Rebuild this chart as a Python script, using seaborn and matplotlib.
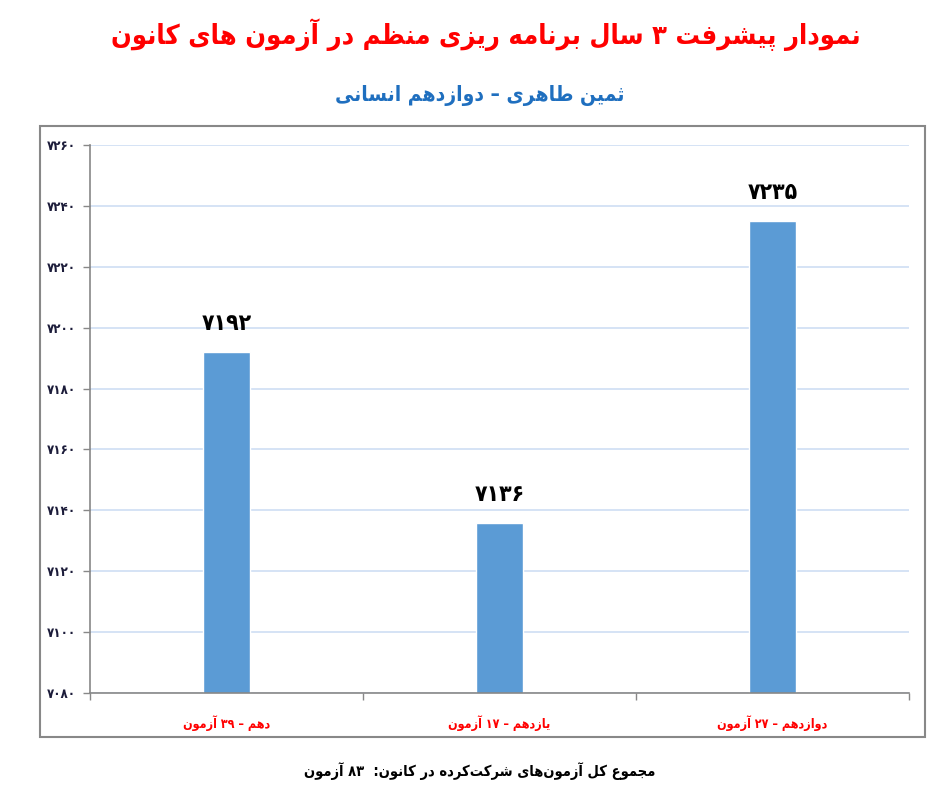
# نمودار پیشرفت سه ساله - نمودار میله‌ای با seaborn
import matplotlib
matplotlib.use('Agg')
import matplotlib.pyplot as plt
import seaborn as sns
import pandas as pd
from matplotlib.patches import Rectangle
from matplotlib.ticker import FixedLocator

# داده‌ها
categories = ['دهم – ۳۹ آزمون', 'یازدهم – ۱۷ آزمون', 'دوازدهم – ۲۷ آزمون']
scores = [7192, 7136, 7235]
y_ticks = list(range(7080, 7261, 20))

title = 'نمودار پیشرفت ۳ سال برنامه ریزی منظم در آزمون های کانون'
subtitle = 'ثمین طاهری – دوازدهم انسانی'
footer = 'مجموع کل آزمون‌های شرکت‌کرده در کانون:  ۸۳ آزمون'

# --- شکل‌دهی ساده حروف فارسی (matplotlib خودش این کار را نمی‌کند) ---
FORMS = {
    'ا': (0xFE8D, 0xFE8E, None, None), 'آ': (0xFE81, 0xFE82, None, None),
    'ب': (0xFE8F, 0xFE90, 0xFE91, 0xFE92), 'پ': (0xFB56, 0xFB57, 0xFB58, 0xFB59),
    'ت': (0xFE95, 0xFE96, 0xFE97, 0xFE98), 'ث': (0xFE99, 0xFE9A, 0xFE9B, 0xFE9C),
    'ج': (0xFE9D, 0xFE9E, 0xFE9F, 0xFEA0), 'چ': (0xFB7A, 0xFB7B, 0xFB7C, 0xFB7D),
    'ح': (0xFEA1, 0xFEA2, 0xFEA3, 0xFEA4), 'خ': (0xFEA5, 0xFEA6, 0xFEA7, 0xFEA8),
    'د': (0xFEA9, 0xFEAA, None, None), 'ذ': (0xFEAB, 0xFEAC, None, None),
    'ر': (0xFEAD, 0xFEAE, None, None), 'ز': (0xFEAF, 0xFEB0, None, None),
    'ژ': (0xFB8A, 0xFB8B, None, None),
    'س': (0xFEB1, 0xFEB2, 0xFEB3, 0xFEB4), 'ش': (0xFEB5, 0xFEB6, 0xFEB7, 0xFEB8),
    'ص': (0xFEB9, 0xFEBA, 0xFEBB, 0xFEBC), 'ض': (0xFEBD, 0xFEBE, 0xFEBF, 0xFEC0),
    'ط': (0xFEC1, 0xFEC2, 0xFEC3, 0xFEC4), 'ظ': (0xFEC5, 0xFEC6, 0xFEC7, 0xFEC8),
    'ع': (0xFEC9, 0xFECA, 0xFECB, 0xFECC), 'غ': (0xFECD, 0xFECE, 0xFECF, 0xFED0),
    'ف': (0xFED1, 0xFED2, 0xFED3, 0xFED4), 'ق': (0xFED5, 0xFED6, 0xFED7, 0xFED8),
    'ک': (0xFB8E, 0xFB8F, 0xFB90, 0xFB91), 'گ': (0xFB92, 0xFB93, 0xFB94, 0xFB95),
    'ل': (0xFEDD, 0xFEDE, 0xFEDF, 0xFEE0), 'م': (0xFEE1, 0xFEE2, 0xFEE3, 0xFEE4),
    'ن': (0xFEE5, 0xFEE6, 0xFEE7, 0xFEE8), 'و': (0xFEED, 0xFEEE, None, None),
    'ه': (0xFEE9, 0xFEEA, 0xFEEB, 0xFEEC), 'ی': (0xFBFC, 0xFBFD, 0xFBFE, 0xFBFF),
}
DIGITS = set('۰۱۲۳۴۵۶۷۸۹0123456789')


def fa(text):
    chars = list(text)
    out = []
    for i, ch in enumerate(chars):
        if ch == '\u200c':
            continue
        if ch not in FORMS:
            out.append(ch)
            continue
        prev = chars[i - 1] if i > 0 else ''
        nxt = chars[i + 1] if i + 1 < len(chars) else ''
        join_prev = prev in FORMS and FORMS[prev][2] is not None
        join_next = nxt in FORMS and FORMS[ch][2] is not None
        iso, fin, ini, med = FORMS[ch]
        if join_prev and join_next:
            out.append(chr(med))
        elif join_prev:
            out.append(chr(fin))
        elif join_next:
            out.append(chr(ini))
        else:
            out.append(chr(iso))
    # راست به چپ: برعکس کردن، ولی اعداد به همان ترتیب بمانند
    rev = out[::-1]
    res, run = [], []
    for ch in rev:
        if ch in DIGITS:
            run.append(ch)
        else:
            res.extend(run[::-1])
            run = []
            res.append(ch)
    res.extend(run[::-1])
    return ''.join(res)


def fa_num(n):
    return str(n).translate(str.maketrans('0123456789', '۰۱۲۳۴۵۶۷۸۹'))


sns.set_style('white')
plt.rcParams['font.family'] = ['DejaVu Sans']
plt.rcParams['font.stretch'] = 'condensed'

fig = plt.figure(figsize=(9.46, 8.10), dpi=100)
ax = fig.add_axes([90 / 946, 117 / 810, 819 / 946, 548 / 810])

df = pd.DataFrame({'cat': categories, 'score': scores})
sns.barplot(data=df, x='cat', y='score', ax=ax, color='#5b9bd5',
            width=0.17, saturation=1)

ax.set_ylim(7080, 7260)
ax.set_xlim(-0.5, 2.5)
ax.set_yticks(y_ticks)
ax.set_yticklabels([fa_num(t) for t in y_ticks], fontsize=9.5,
                   fontweight='bold', color='#1c1c3a')
ax.yaxis.grid(True, color='#d2e1f4', linewidth=1.3)
ax.set_axisbelow(True)

ax.set_xticks(range(len(categories)))
ax.set_xticklabels([fa(c) for c in categories], fontsize=9,
                   fontweight='bold', color='#ff0000')
ax.xaxis.set_minor_locator(FixedLocator([-0.5, 0.5, 1.5, 2.5]))
ax.tick_params(axis='x', which='major', length=0, pad=16)
ax.tick_params(axis='x', which='minor', length=5, width=1, color='#888888',
               direction='out', bottom=True)
ax.tick_params(axis='y', length=5, width=1, color='#888888', direction='out',
               left=True, pad=5)
ax.set_xlabel('')
ax.set_ylabel('')

for s in ['top', 'right']:
    ax.spines[s].set_visible(False)
for s in ['left', 'bottom']:
    ax.spines[s].set_color('#888888')
    ax.spines[s].set_linewidth(1.2)

# برچسب مقدار روی میله‌ها
for i, v in enumerate(scores):
    ax.annotate(fa_num(v), (i, v), xytext=(0, 12), textcoords='offset points',
                ha='center', va='bottom', fontsize=16.5, fontweight='bold',
                color='black')

# قاب بیرونی نمودار
fig.patches.append(Rectangle((40 / 946, 1 - 737 / 810), 885 / 946, 611 / 810,
                             transform=fig.transFigure, fill=False,
                             edgecolor='#888888', linewidth=1.5))

fig.text(486 / 946, 1 - 35 / 810, fa(title), ha='center', va='center',
         fontsize=19.5, fontweight='bold', color='#ff0000')
fig.text(480 / 946, 1 - 95 / 810, fa(subtitle), ha='center', va='center',
         fontsize=15, fontweight='bold', color='#1f6fbf')
fig.text(480 / 946, 1 - 771 / 810, fa(footer), ha='center', va='center',
         fontsize=10.5, fontweight='bold', color='black')

fig.savefig('out.png', dpi=100)
